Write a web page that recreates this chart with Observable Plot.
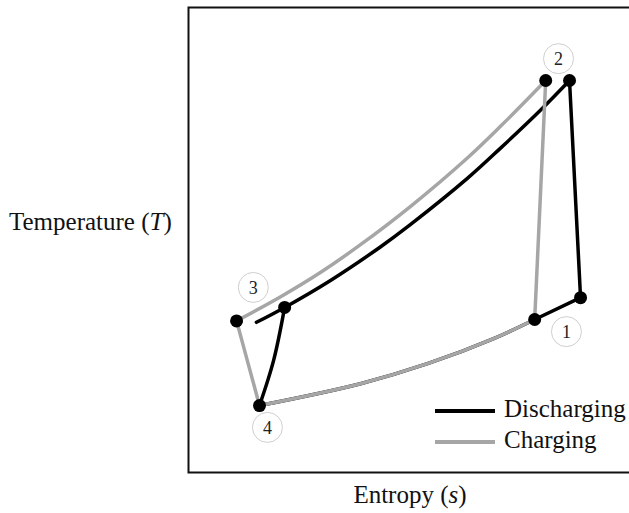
<!DOCTYPE html>
<html><head><meta charset="utf-8">
<script src="https://cdn.jsdelivr.net/npm/d3@7"></script>
<script src="https://cdn.jsdelivr.net/npm/@observablehq/plot@0.6"></script>
<style>body{margin:0;background:#fff}#chart{position:relative;width:629px;height:513px;overflow:hidden}</style>
</head><body><div id="chart"></div>
<script>
// Entropy (s) and Temperature (T) in arbitrary units
const statePoints = [
  {name: "1c", s: 78.5, T: 32.9},
  {name: "2c", s: 81.0, T: 84.3},
  {name: "3c", s: 10.9, T: 32.6},
  {name: "4",  s: 16.1, T: 14.4},
  {name: "1d", s: 88.9, T: 37.6},
  {name: "2d", s: 86.4, T: 84.3},
  {name: "3d", s: 21.8, T: 35.5}
];
const lowPressureCurve = [[16.1,14.4],[39.0,19.1],[54.2,23.4],[69.2,28.8],[78.5,32.9]];
const chargingHighCurve = [[10.9,32.6],[20.9,37.8],[29.9,43.0],[39.0,49.0],[50.3,57.2],[63.3,67.7],[70.7,74.4],[81.0,84.3]];
const dischargingHighCurve = [[15.4,32.3],[21.8,35.5],[32.2,41.3],[43.5,48.5],[50.3,53.3],[63.3,63.3],[70.7,69.7],[79.8,77.9],[86.4,84.3]];
const dischargingExpansion = [[16.1,14.4],[19.3,24.1],[21.8,35.5]];
const chargingCompressionLine = [[78.5,32.9],[81.0,84.3]];
const chargingExpansionLine = [[10.9,32.6],[16.1,14.4]];
const dischargingHeatLine = [[78.5,32.9],[88.9,37.6]];
const dischargingCompressionLine = [[88.9,37.6],[86.4,84.3]];
const stateLabels = [
  {label: "1", s: 85.7, T: 30.3},
  {label: "2", s: 83.9, T: 89.0},
  {label: "3", s: 14.7, T: 39.8},
  {label: "4", s: 17.9, T: 9.7}
];
const seriesNames = ["Discharging", "Charging"];
const seriesColors = ["#000000", "#a6a6a6"];

const segments = [
  ["D1", "Discharging", lowPressureCurve],
  ["D2", "Discharging", dischargingHeatLine],
  ["D3", "Discharging", dischargingCompressionLine],
  ["D4", "Discharging", dischargingHighCurve],
  ["D5", "Discharging", dischargingExpansion],
  ["C1", "Charging", chargingCompressionLine],
  ["C2", "Charging", chargingHighCurve],
  ["C3", "Charging", chargingExpansionLine],
  ["C4", "Charging", lowPressureCurve]
];
const rows = segments.flatMap(([seg, cycle, pts]) => pts.map(([s, T]) => ({seg, cycle, s, T})));

const plot = Plot.plot({
  width: 629, height: 513,
  marginLeft: 188, marginRight: -3, marginTop: 7, marginBottom: 41,
  x: {domain: [0, 100.68], axis: null},
  y: {domain: [0, 100], axis: null},
  color: {domain: seriesNames, range: seriesColors},
  style: {fontFamily: "'Liberation Serif', serif", background: "#fff", overflow: "hidden"},
  marks: [
    Plot.line(rows.filter(d => d.cycle === "Discharging"), {x: "s", y: "T", z: "seg", stroke: "cycle", strokeWidth: 3.5, curve: "catmull-rom", strokeLinecap: "round"}),
    Plot.line(rows.filter(d => d.cycle === "Charging"), {x: "s", y: "T", z: "seg", stroke: "cycle", strokeWidth: 3.5, curve: "catmull-rom", strokeLinecap: "round"}),
    Plot.dot(statePoints, {x: "s", y: "T", r: 6.5, fill: "#000", stroke: "none"}),
    Plot.dot(stateLabels, {x: "s", y: "T", r: 15, fill: "#fff", stroke: "#cfcfcf", strokeWidth: 1}),
    Plot.text(stateLabels, {x: "s", y: "T", text: "label", fontSize: 18, fill: "#222", dy: 1}),
    Plot.frame({stroke: "#111", strokeWidth: 2})
  ]
});
document.getElementById("chart").appendChild(plot);

const svg = d3.select(plot);
const font = "'Liberation Serif', serif";
// axis titles
const yt = svg.append("text").attr("x", 9).attr("y", 230).attr("text-anchor", "start").attr("font-size", 25).attr("font-family", font).attr("fill", "#111");
yt.append("tspan").text("Temperature (");
yt.append("tspan").attr("font-style", "italic").text("T");
yt.append("tspan").text(")");
const xt = svg.append("text").attr("x", 410).attr("y", 503).attr("text-anchor", "middle").attr("font-size", 25).attr("font-family", font).attr("fill", "#111");
xt.append("tspan").text("Entropy (");
xt.append("tspan").attr("font-style", "italic").text("s");
xt.append("tspan").text(")");
// legend
const lg = svg.append("g");
seriesNames.forEach((name, i) => {
  const y = 411 + i * 31;
  lg.append("line").attr("x1", 435).attr("x2", 495).attr("y1", y).attr("y2", y)
    .attr("stroke", seriesColors[i]).attr("stroke-width", 4);
  lg.append("text").attr("x", 504).attr("y", y + 6).attr("text-anchor", "start").attr("font-size", 25).attr("font-family", font).attr("fill", "#111").text(name);
});
</script>
</body></html>
